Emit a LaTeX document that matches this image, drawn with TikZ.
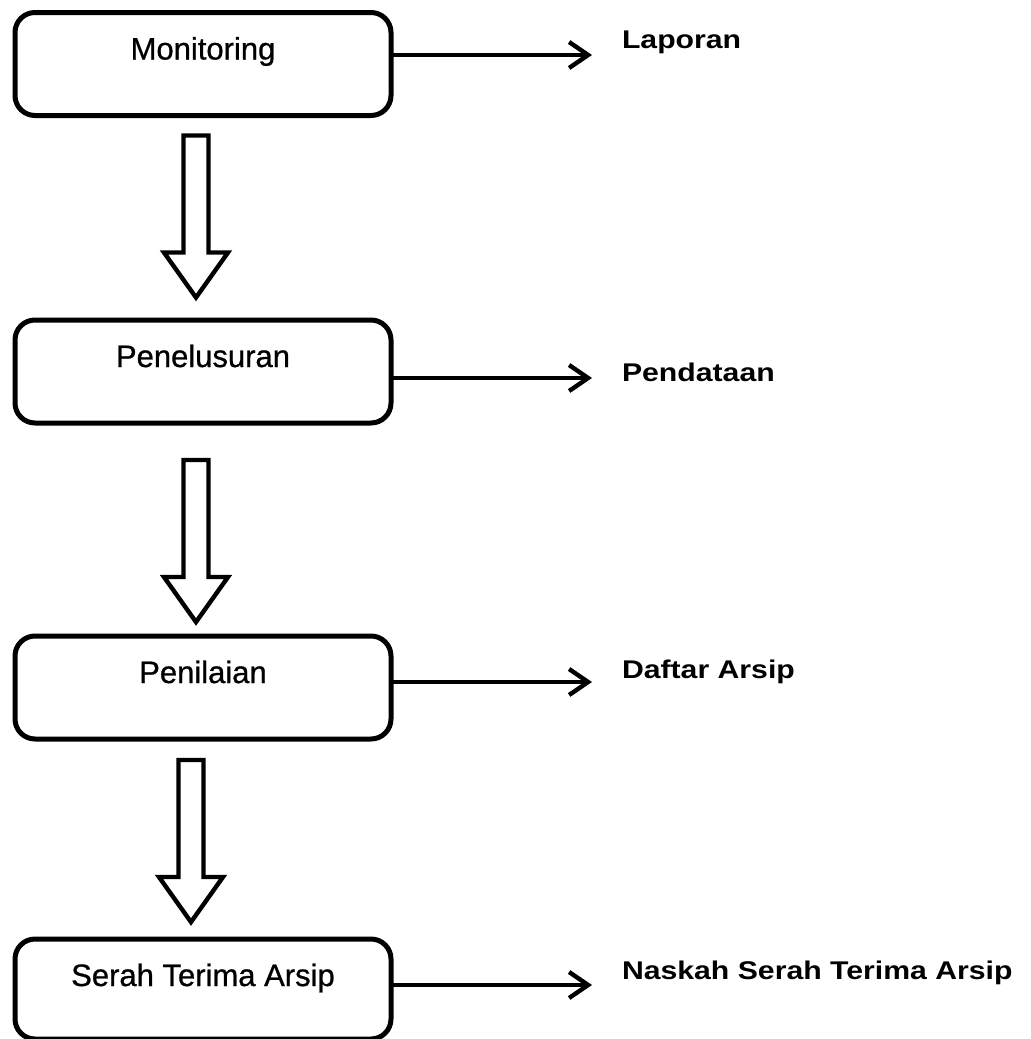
\documentclass[tikz,border=0pt]{standalone}
\usepackage{fontspec}
\setmainfont{Liberation Sans}
\newfontfamily\stagefont[FakeBold=0.8]{Liberation Sans}
\newfontfamily\lblfont[FakeStretch=1.18]{Liberation Sans}
\usetikzlibrary{arrows.meta,calc}

\tikzset{
  stage/.style={draw, line width=2.5pt, rounded corners=10pt, inner sep=0pt, outer sep=0pt,
    minimum width=188pt, text height=23.5pt, text depth=28pt,
    font=\stagefont\fontsize{15.5pt}{18pt}\selectfont},
  result/.style={anchor=base west, inner xsep=15pt, inner ysep=0pt, outer sep=0pt,
    font=\lblfont\bfseries\fontsize{12.8pt}{15pt}\selectfont},
  flow/.style={line width=2.2pt, -{Straight Barb[length=9.5pt,width=13pt]}},
  hollowdown/.pic={
    \draw[line width=2.2pt, line join=miter]
      (-12.5,0) -- (-12.5,117) -- (-32,117) -- (0,162) -- (32,117) -- (12.5,117) -- (12.5,0) -- cycle;
  }
}

\begin{document}
\begin{tikzpicture}[x=0.5pt, y=-0.5pt]
        \useasboundingbox (0,0) rectangle (1031,1039);

        % Stages of the archive process
        \node[stage] (mon) at (203,64) {Monitoring};
        \node[stage] (pen) at (203,371.5) {Penelusuran};
        \node[stage] (nil) at (203,687.5) {Penilaian};
        \node[stage, text depth=26.5pt] (ser) at (203,989) {Serah Terima Arsip};

        % Output of each stage
        \node[result] (lap) at (592,48) {Laporan};
        \node[result] (pdt) at (592,381) {Pendataan};
        \node[result] (daf) at (592,678) {Daftar Arsip};
        \node[result] (nsk) at (592,979) {Naskah Serah Terima Arsip};

        % Arrows to the outputs
        \draw[flow] (mon.east |- 0,55) -- (lap.west |- 0,55);
        \draw[flow] (pen.east |- 0,378) -- (pdt.west |- 0,378);
        \draw[flow] (nil.east |- 0,682) -- (daf.west |- 0,682);
        \draw[flow] (ser.east |- 0,985) -- (nsk.west |- 0,985);

        % Hollow arrows between the stages
        \pic at ($(mon.south)+(-7,20)$) {hollowdown};
        \pic at ($(pen.south)+(-7,37)$) {hollowdown};
        \pic at ($(nil.south)+(-12,21)$) {hollowdown};
    \end{tikzpicture}
\end{document}
